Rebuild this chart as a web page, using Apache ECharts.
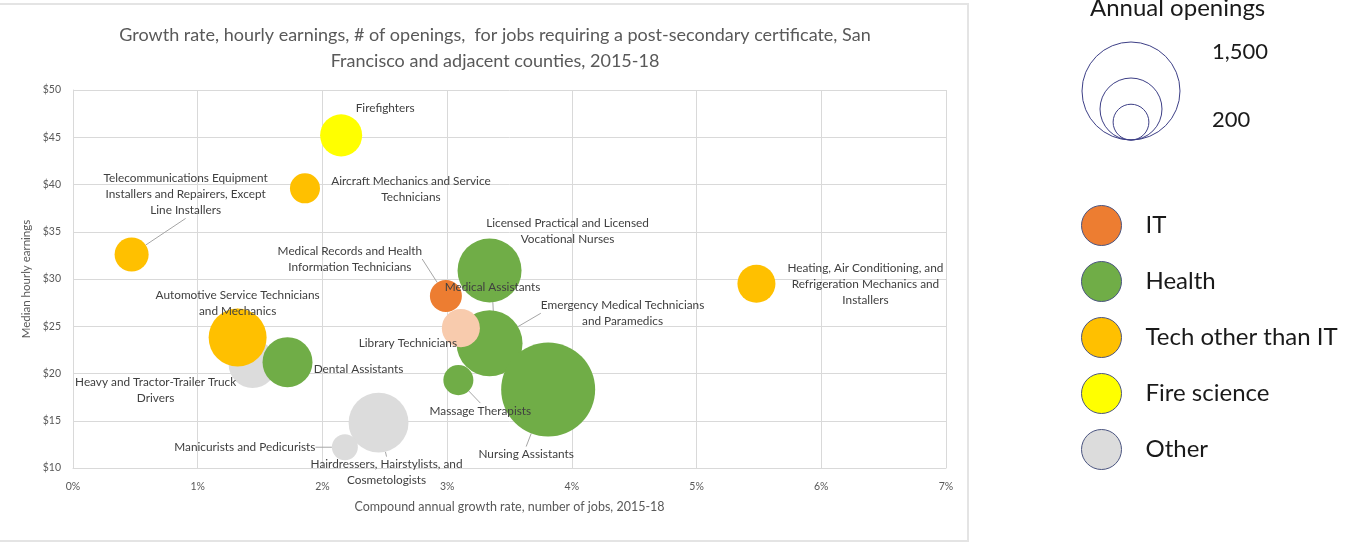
<!DOCTYPE html>
<html>
<head>
<meta charset="utf-8">
<script src="https://cdn.jsdelivr.net/npm/echarts@6/dist/echarts.min.js"></script>
<style>
  html, body { margin: 0; padding: 0; background: #ffffff; }
  #chart { width: 1349px; height: 544px; }
</style>
</head>
<body>
<div id="chart"></div>
<script>
// Occupations requiring a post-secondary certificate, SF and adjacent counties, 2015-18
const jobs = [
  'Heavy and Tractor-Trailer Truck Drivers',
  'Hairdressers, Hairstylists, and Cosmetologists',
  'Manicurists and Pedicurists',
  'Medical Assistants',
  'Emergency Medical Technicians and Paramedics',
  'Licensed Practical and Licensed Vocational Nurses',
  'Massage Therapists',
  'Nursing Assistants',
  'Dental Assistants',
  'Medical Records and Health Information Technicians',
  'Library Technicians',
  'Telecommunications Equipment Installers and Repairers, Except Line Installers',
  'Aircraft Mechanics and Service Technicians',
  'Automotive Service Technicians and Mechanics',
  'Heating, Air Conditioning, and Refrigeration Mechanics and Installers',
  'Firefighters'
];
// Text as it is wrapped next to each bubble
const jobLabels = [
  'Heavy and Tractor-Trailer Truck\nDrivers',
  'Hairdressers, Hairstylists, and\nCosmetologists',
  'Manicurists and Pedicurists',
  'Medical Assistants',
  'Emergency Medical Technicians\nand Paramedics',
  'Licensed Practical and Licensed\nVocational Nurses',
  'Massage Therapists',
  'Nursing Assistants',
  'Dental Assistants',
  'Medical Records and Health\nInformation Technicians',
  'Library Technicians',
  'Telecommunications Equipment\nInstallers and Repairers, Except\nLine Installers',
  'Aircraft Mechanics and Service\nTechnicians',
  'Automotive Service Technicians\nand Mechanics',
  'Heating, Air Conditioning, and\nRefrigeration Mechanics and\nInstallers',
  'Firefighters'
];
const jobCategory = [
  'Other', 'Other', 'Other',
  'Health', 'Health', 'Health', 'Health', 'Health', 'Health',
  'IT', 'IT',
  'Tech other than IT', 'Tech other than IT', 'Tech other than IT', 'Tech other than IT',
  'Fire science'
];
// Compound annual growth rate of jobs, %
const growthRate = [1.44, 2.45, 2.18, 3.38, 3.34, 3.34, 3.09, 3.81, 1.72, 2.99, 3.11, 0.47, 1.86, 1.32, 5.48, 2.15];
// Median hourly earnings, $
const hourlyEarnings = [21.0, 14.8, 12.2, 23.8, 23.2, 30.9, 19.3, 18.3, 21.2, 28.2, 24.8, 32.6, 39.6, 23.8, 29.5, 45.2];
// Annual openings
const annualOpenings = [360, 560, 105, 300, 680, 640, 141, 1380, 390, 160, 226, 181, 141, 525, 226, 276];

const legendCategories = ['IT', 'Health', 'Tech other than IT', 'Fire science', 'Other'];
const drawOrder = ['Other', 'Health', 'IT', 'Tech other than IT', 'Fire science'];
const sizeLegendValues = [1500, 600, 200];
const sizeLegendLabels = ['1,500', '200'];

// ---- presentation ----
const categoryColor = {
  'IT': '#ED7D31',
  'Health': '#70AD47',
  'Tech other than IT': '#FFC000',
  'Fire science': '#FFFF00',
  'Other': '#DCDCDC'
};
const itemColor = { 'Library Technicians': '#F8CBAD' };
// label offset from bubble centre [dx, dy] and whether a leader line is drawn
const labelPlacement = {
  'Heavy and Tractor-Trailer Truck Drivers': [-97, 26, false],
  'Hairdressers, Hairstylists, and Cosmetologists': [8, 50, true],
  'Manicurists and Pedicurists': [-100, 0, true],
  'Medical Assistants': [-2, -50, true],
  'Emergency Medical Technicians and Paramedics': [133, -30, true],
  'Licensed Practical and Licensed Vocational Nurses': [78, -39, false],
  'Massage Therapists': [22, 31, true],
  'Nursing Assistants': [-22, 65, true],
  'Dental Assistants': [71, 7, false],
  'Medical Records and Health Information Technicians': [-96, -37, true],
  'Library Technicians': [-53, 15, false],
  'Telecommunications Equipment Installers and Repairers, Except Line Installers': [54, -60, true],
  'Aircraft Mechanics and Service Technicians': [106, 1, false],
  'Automotive Service Technicians and Mechanics': [0, -34, true],
  'Heating, Air Conditioning, and Refrigeration Mechanics and Installers': [109, 0, false],
  'Firefighters': [44, -27, false]
};
const FONT = 'Lato, "Liberation Sans", sans-serif';
const bubbleScale = 2.53; // diameter per sqrt(opening)
const bubbleSize = n => bubbleScale * Math.sqrt(n);

const chart = echarts.init(document.getElementById('chart'), null, { renderer: 'canvas' });

const series = drawOrder.map(cat => {
  const idx = jobs.map((j, i) => i).filter(i => jobCategory[i] === cat);
  return {
    name: cat,
    type: 'scatter',
    z: 3,
    itemStyle: { color: categoryColor[cat], opacity: 1 },
    emphasis: { disabled: true },
    symbolSize: v => bubbleSize(v[2]),
    label: {
      show: true,
      position: 'inside',
      formatter: p => jobLabels[idx[p.dataIndex]],
      color: '#404040',
      fontFamily: FONT,
      fontSize: 11.8,
      lineHeight: 16,
      align: 'center'
    },
    labelLine: { show: false, lineStyle: { color: '#a6a6a6', width: 1 } },
    labelLayout: p => {
      const pl = labelPlacement[jobs[idx[p.dataIndex]]];
      return { dx: pl[0], dy: pl[1], hideOverlap: false };
    },
    data: idx.map(i => {
      const item = {
        name: jobs[i],
        value: [growthRate[i], hourlyEarnings[i], annualOpenings[i]],
        labelLine: { show: labelPlacement[jobs[i]][2] }
      };
      if (itemColor[jobs[i]]) item.itemStyle = { color: itemColor[jobs[i]] };
      return item;
    })
  };
});

// size key: circles sharing one bottom point
const keyCx = 1131, keyBottom = 140;
const sizeKey = sizeLegendValues.map(v => {
  const r = bubbleSize(v) / 2;
  return {
    type: 'circle',
    shape: { cx: keyCx, cy: keyBottom - r, r: r },
    style: { fill: 'none', stroke: '#3d3f86', lineWidth: 1 }
  };
});

const option = {
  backgroundColor: '#ffffff',
  animation: false,
  title: {
    text: 'Growth rate, hourly earnings, # of openings,  for jobs requiring a post-secondary certificate, San\nFrancisco and adjacent counties, 2015-18',
    left: 490,
    textAlign: 'center',
    top: 17,
    textStyle: { fontFamily: FONT, fontSize: 18, fontWeight: 'normal', color: '#595959', lineHeight: 26 }
  },
  legend: {
    data: legendCategories,
    orient: 'vertical',
    left: 1081,
    top: 205,
    padding: 0,
    itemWidth: 40,
    itemHeight: 40,
    itemGap: 15,
    icon: 'circle',
    selectedMode: false,
    itemStyle: { borderColor: '#4b5580', borderWidth: 1 },
    textStyle: { fontFamily: FONT, fontSize: 24, color: '#1a1a1a', padding: [0, 0, 0, 19] }
  },
  grid: { left: 73, right: 403, top: 90, bottom: 76 },
  xAxis: {
    type: 'value',
    min: 0, max: 7, interval: 1,
    name: 'Compound annual growth rate, number of jobs, 2015-18',
    nameLocation: 'middle',
    nameGap: 32,
    nameTextStyle: { fontFamily: FONT, fontSize: 12.5, color: '#595959' },
    axisLine: { show: true, lineStyle: { color: '#d9d9d9' } },
    axisTick: { show: false },
    axisLabel: { formatter: '{value}%', fontFamily: FONT, fontSize: 10.5, color: '#595959', margin: 13 },
    splitLine: { show: true, lineStyle: { color: '#d9d9d9' } }
  },
  yAxis: {
    type: 'value',
    min: 10, max: 50, interval: 5,
    name: 'Median hourly earnings',
    nameLocation: 'middle',
    nameGap: 31,
    nameRotate: 90,
    nameTextStyle: { fontFamily: FONT, fontSize: 11.5, color: '#595959' },
    axisLine: { show: true, lineStyle: { color: '#d9d9d9' } },
    axisTick: { show: false },
    axisLabel: { formatter: '${value}', fontFamily: FONT, fontSize: 10.5, color: '#595959', margin: 12 },
    splitLine: { show: true, lineStyle: { color: '#d9d9d9' } }
  },
  graphic: [
    {
      type: 'rect', z: -10, silent: true,
      shape: { x: -2, y: 4, width: 970, height: 537 },
      style: { fill: '#ffffff', stroke: '#e4e4e4', lineWidth: 2 }
    },
    {
      type: 'text', left: 1090, top: -4,
      style: { text: 'Annual openings', fontFamily: FONT, fontSize: 24, fill: '#1a1a1a' }
    },
    ...sizeKey,
    {
      type: 'text', left: 1212, top: 41,
      style: { text: sizeLegendLabels[0], fontFamily: FONT, fontSize: 22, fill: '#1a1a1a' }
    },
    {
      type: 'text', left: 1212, top: 109,
      style: { text: sizeLegendLabels[1], fontFamily: FONT, fontSize: 22, fill: '#1a1a1a' }
    }
  ],
  series: series
};

chart.setOption(option);
</script>
</body>
</html>
